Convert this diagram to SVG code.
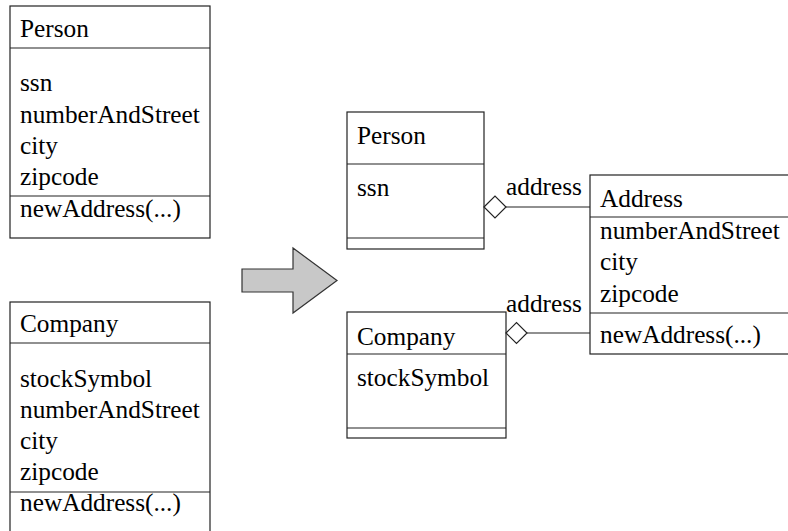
<svg xmlns="http://www.w3.org/2000/svg" width="788" height="531" viewBox="0 0 788 531">
<style>
.box{fill:#fff;stroke:#222;stroke-width:1.2}
.ln{stroke:#222;stroke-width:1.2;fill:none}
.t{font-family:'Liberation Serif','Times New Roman',serif;font-size:25.3px;fill:#000}
.dia{fill:#fff;stroke:#222;stroke-width:1.2}
</style>
<rect width="788" height="531" fill="#fff"/>
<g class="t">
<g id="person-before">
<rect class="box" x="10" y="6" width="200" height="232"/>
<line class="ln" x1="10" y1="48" x2="210" y2="48"/>
<line class="ln" x1="10" y1="196" x2="210" y2="196"/>
<text x="20" y="37">Person</text>
<text x="20" y="91">ssn</text>
<text x="20" y="123">numberAndStreet</text>
<text x="20" y="154">city</text>
<text x="20" y="185">zipcode</text>
<text x="20" y="217">newAddress(...)</text>
</g>
<g id="company-before">
<rect class="box" x="10" y="302" width="200" height="240"/>
<line class="ln" x1="10" y1="343" x2="210" y2="343"/>
<line class="ln" x1="10" y1="492" x2="210" y2="492"/>
<text x="20" y="332">Company</text>
<text x="20" y="387">stockSymbol</text>
<text x="20" y="418">numberAndStreet</text>
<text x="20" y="449">city</text>
<text x="20" y="480">zipcode</text>
<text x="20" y="511">newAddress(...)</text>
</g>
<g id="transform-arrow">
<polygon points="242,269 293,269 293,248 337,280.5 293,313 293,292 242,292" fill="#c8c8c8" stroke="#333" stroke-width="1.2"/>
</g>
<g id="person-after">
<rect class="box" x="347" y="112" width="137" height="137"/>
<line class="ln" x1="347" y1="164" x2="484" y2="164"/>
<line class="ln" x1="347" y1="238" x2="484" y2="238"/>
<text x="357" y="144">Person</text>
<text x="357" y="196">ssn</text>
</g>
<g id="company-after">
<rect class="box" x="347" y="312" width="159" height="126"/>
<line class="ln" x1="347" y1="354" x2="506" y2="354"/>
<line class="ln" x1="347" y1="428" x2="506" y2="428"/>
<text x="357" y="345">Company</text>
<text x="357" y="386">stockSymbol</text>
</g>
<g id="address">
<rect class="box" x="590" y="175" width="220" height="179"/>
<line class="ln" x1="590" y1="217" x2="800" y2="217"/>
<line class="ln" x1="590" y1="313" x2="800" y2="313"/>
<text x="600" y="207">Address</text>
<text x="600" y="239">numberAndStreet</text>
<text x="600" y="270">city</text>
<text x="600" y="302">zipcode</text>
<text x="600" y="343">newAddress(...)</text>
</g>
<g id="connectors">
<line class="ln" x1="506" y1="207" x2="590" y2="207"/>
<polygon class="dia" points="484,207 495,196 506,207 495,218"/>
<text x="506" y="195">address</text>
<line class="ln" x1="527" y1="333" x2="590" y2="333"/>
<polygon class="dia" points="506,333 516.5,322.5 527,333 516.5,343.5"/>
<text x="506" y="312">address</text>
</g>
</g>
</svg>
